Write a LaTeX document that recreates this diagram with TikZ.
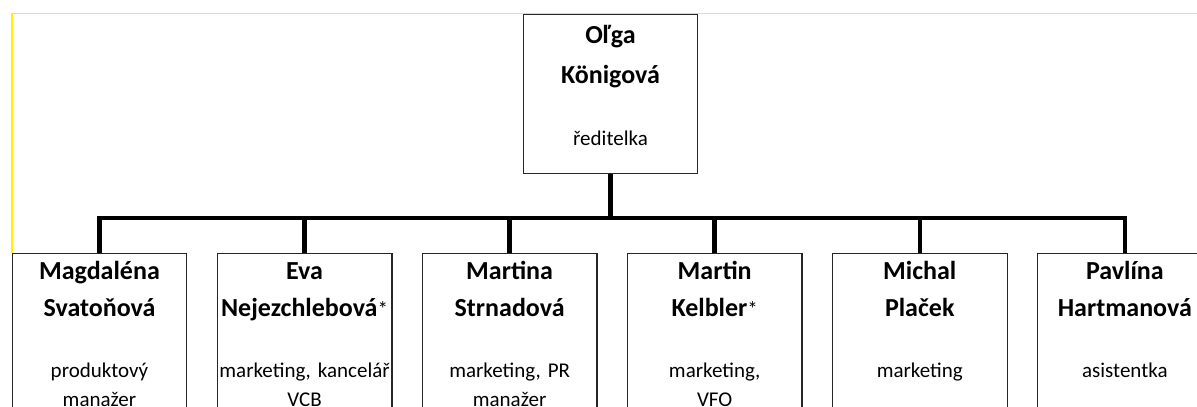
\documentclass[tikz,border=0pt]{standalone}
\usepackage{fontspec}
\setmainfont{Carlito}
\usepackage{tikz}
\usetikzlibrary{positioning, calc}

\newcommand{\namefont}{\fontsize{19.5}{27.75}\selectfont\bfseries}
\newcommand{\rolefont}{\fontsize{15.75}{21.5}\selectfont}

\begin{document}
\begin{tikzpicture}[
  x=0.75pt, y=0.75pt,
  boss/.style={
    draw=black!85, line width=0.9pt, fill=white, anchor=north,
    inner xsep=0pt, inner ysep=0pt, text width=131pt, align=center,
    font=\rolefont, text height=21.5pt, text depth=97.7pt
  },
  staff/.style={boss, text height=19.5pt, text depth=121pt},
  link/.style={line width=3.4pt},
  frame/.style={draw=yellow, line width=1.3pt},
]
  \useasboundingbox (0,0) rectangle (1197,407);

  % Yellow frame
  \draw[frame] (12,154) -- (12,393.5) -- (1197,393.5);

  % Director
  \node[boss] (konigova) at (610.5,393)
    {{\namefont\baselineskip=30.5pt Oľga\\Königová\par}\vspace{24.8pt}ředitelka};

  % Staff
  \node[staff] (svatonova) at (99.5,154)
    {{\namefont Magdaléna\\Svatoňová\par}\vspace{24.25pt}produktový\\manažer};
  \node[staff, right=21.9pt of svatonova] (nejezchlebova)
    {{\namefont Eva\\Nejezchlebová{\rolefont\mdseries*}\par}\vspace{24.25pt}marketing, kancelář\\VCB};
  \node[staff, right=21.9pt of nejezchlebova] (strnadova)
    {{\namefont Martina\\Strnadová\par}\vspace{24.25pt}marketing, PR\\manažer};
  \node[staff, right=21.9pt of strnadova] (kelbler)
    {{\namefont Martin\\Kelbler{\rolefont\mdseries*}\par}\vspace{24.25pt}marketing,\\VFO};
  \node[staff, right=21.9pt of kelbler] (placek)
    {{\namefont Michal\\Plaček\par}\vspace{24.25pt}marketing};
  \node[staff, right=21.9pt of placek] (hartmanova)
    {{\namefont Pavlína\\Hartmanová\par}\vspace{24.25pt}asistentka};

  % Connectors
  \coordinate (bar) at (0,189);
  \foreach \kid in {svatonova, nejezchlebova, strnadova, kelbler, placek, hartmanova}
    \draw[link] (konigova.south) |- (\kid.north |- bar) -- (\kid.north);

\end{tikzpicture}
\end{document}
